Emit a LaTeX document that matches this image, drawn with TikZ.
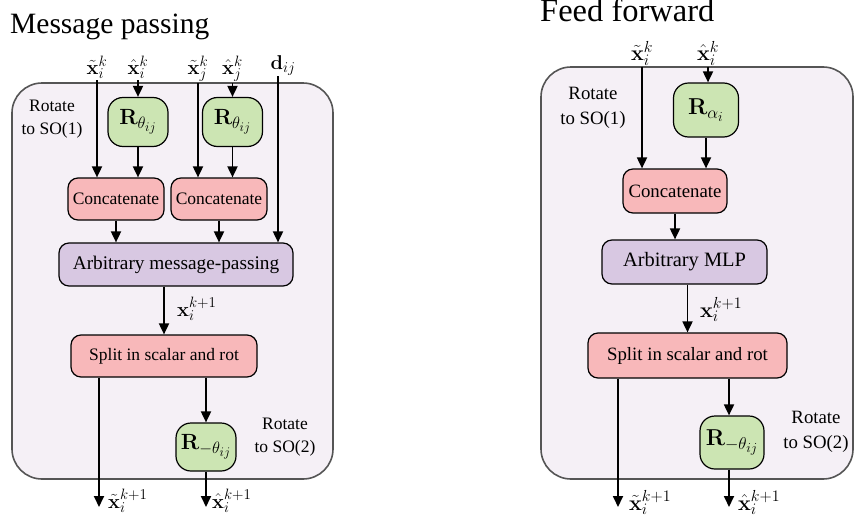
\RequirePackage{fix-cm}
\documentclass[tikz,border=0pt]{standalone}
\usepackage[no-math]{fontspec}
\setmainfont{Liberation Serif}
\usetikzlibrary{arrows.meta}
\DeclareMathSizes{20}{20}{15}{12}
\DeclareMathSizes{21.5}{21.5}{16}{12.9}
\DeclareMathSizes{22}{22}{16.5}{13.2}
\DeclareMathSizes{23}{23}{17.2}{13.8}
\definecolor{G}{RGB}{204,229,179}
\definecolor{P}{RGB}{248,184,186}
\definecolor{M}{RGB}{216,200,226}
\definecolor{B}{RGB}{245,240,246}
\definecolor{E}{RGB}{85,85,85}
\newcommand{\fs}[1]{\fontsize{#1}{\dimexpr #1pt*13/10\relax}\selectfont}
\newcommand{\drawarrow}{\draw[line width=1.8pt,-{Triangle[length=11pt,width=10pt]}]}
\tikzset{
  panel/.style={draw=E,line width=1.6pt,fill=B,rounded corners=30pt},
  rbox/.style 2 args={draw,line width=1.2pt,fill=G,rounded corners=15pt,minimum width=#1,minimum height=#2,inner sep=0pt},
  pbox/.style 2 args={draw,line width=1.2pt,fill=P,rounded corners=10pt,minimum width=#1,minimum height=#2,inner sep=0pt},
  mbox/.style 2 args={draw,line width=1.2pt,fill=M,rounded corners=10pt,minimum width=#1,minimum height=#2,inner sep=0pt},
  vec/.style={inner sep=1pt,anchor=base},
  note/.style={align=center,inner sep=0pt}
}
\begin{document}
\begin{tikzpicture}[x=1pt,y=-1pt]
\useasboundingbox (0,0) rectangle (856,522);
\draw[panel] (12,83) rectangle (333,479);
\draw[panel] (541,67) rectangle (853,479);
\node[anchor=base west,inner sep=0pt,font=\fs{29.5}] (titleL) at (10,33) {Message passing};
\node[anchor=base west,inner sep=0pt,font=\fs{32.5}] (titleR) at (540,21) {Feed forward};

\begin{scope}[font=\fs{17.5}]
\node[vec,font=\fs{20}] (xtiL) at (97,74) {$\tilde{\mathbf{x}}_i^k$};
\node[vec,font=\fs{20}] (xhiL) at (138,74) {$\hat{\mathbf{x}}_i^k$};
\node[vec,font=\fs{20}] (xtjL) at (198,74) {$\tilde{\mathbf{x}}_j^k$};
\node[vec,font=\fs{20}] (xhjL) at (232.5,74) {$\hat{\mathbf{x}}_j^k$};
\node[vec,font=\fs{20}] (dijL) at (283,69) {$\mathbf{d}_{ij}$};
\node[rbox={60pt}{49pt},font=\fs{22}] (rthL1) at (138,122) {$\mathbf{R}_{\theta_{ij}}$};
\node[rbox={60pt}{49pt},font=\fs{22}] (rthL2) at (232.5,122) {$\mathbf{R}_{\theta_{ij}}$};
\node[pbox={96pt}{42pt}] (catL1) at (116,199) {Concatenate};
\node[pbox={96pt}{42pt}] (catL2) at (219,199) {Concatenate};
\node[mbox={234pt}{43pt},font=\fs{19.3}] (mpL) at (176,264.5) {Arbitrary message-passing};
\node[pbox={186pt}{42pt}] (splitL) at (164,356) {Split in scalar and rot};
\node[rbox={60pt}{48pt},font=\fs{22}] (rnegL) at (206,447) {$\mathbf{R}_{-\theta_{ij}}$};
\node[note] (rotL1) at (52,119) {Rotate\\to SO(1)};
\node[note] (rotL2) at (285,437) {Rotate\\to SO(2)};
\node[anchor=base west,inner sep=0pt,font=\fs{20}] (xkL) at (177,316) {$\mathbf{x}_i^{k+1}$};
\coordinate (outL1) at (99,507);
\coordinate (outL2) at (206,507);
\node[anchor=base west,inner sep=0pt,font=\fs{20}] (xtoL) at (108,508) {$\tilde{\mathbf{x}}_i^{k+1}$};
\node[anchor=base west,inner sep=0pt,font=\fs{20}] (xhoL) at (212,508) {$\hat{\mathbf{x}}_i^{k+1}$};
\end{scope}
\drawarrow (xtiL.south) -- (xtiL.south |- catL1.north);
\drawarrow (xhiL.south) -- (rthL1.north);
\drawarrow (rthL1.south) -- (rthL1.south |- catL1.north);
\drawarrow (xtjL.south) -- (xtjL.south |- catL2.north);
\drawarrow (xhjL.south) -- (rthL2.north);
\drawarrow (rthL2.south) -- (rthL2.south |- catL2.north);
\drawarrow (catL1.south) -- (catL1.south |- mpL.north);
\drawarrow (catL2.south) -- (catL2.south |- mpL.north);
\drawarrow (dijL.south -| 278,0) -- (278,0 |- mpL.north);
\drawarrow (mpL.south -| splitL) -- (splitL.north);
\drawarrow (outL1 |- splitL.south) -- (outL1);
\drawarrow (splitL.south -| rnegL) -- (rnegL.north);
\drawarrow (rnegL.south) -- (outL2);

\begin{scope}[font=\fs{18.8}]
\node[vec,font=\fs{21.5}] (xtiR) at (642,60) {$\tilde{\mathbf{x}}_i^k$};
\node[vec,font=\fs{21.5}] (xhiR) at (708,60) {$\hat{\mathbf{x}}_i^k$};
\node[rbox={65pt}{54pt},font=\fs{23}] (raR) at (706,110) {$\mathbf{R}_{\alpha_i}$};
\node[pbox={104pt}{44pt}] (catR) at (675,191) {Concatenate};
\node[mbox={165pt}{44pt},font=\fs{20.4}] (mlpR) at (684.5,262) {Arbitrary MLP};
\node[pbox={199pt}{45pt}] (splitR) at (687.5,355.5) {Split in scalar and rot};
\node[rbox={64pt}{53pt},font=\fs{23}] (rnegR) at (732,442.5) {$\mathbf{R}_{-\theta_{ij}}$};
\node[note] (rotR1) at (593,108) {Rotate\\to SO(1)};
\node[note] (rotR2) at (816,432) {Rotate\\to SO(2)};
\node[anchor=base west,inner sep=0pt,font=\fs{21.5}] (xkR) at (700,317) {$\mathbf{x}_i^{k+1}$};
\coordinate (outR1) at (618,507);
\coordinate (outR2) at (729,507);
\node[anchor=base west,inner sep=0pt,font=\fs{21.5}] (xtoR) at (629,510) {$\tilde{\mathbf{x}}_i^{k+1}$};
\node[anchor=base west,inner sep=0pt,font=\fs{21.5}] (xhoR) at (738,510) {$\hat{\mathbf{x}}_i^{k+1}$};
\end{scope}
\drawarrow (xtiR.south) -- (xtiR.south |- catR.north);
\drawarrow (xhiR.south) -- (xhiR.south |- raR.north);
\drawarrow (raR.south) -- (raR.south |- catR.north);
\drawarrow (catR.south) -- (catR.south |- mlpR.north);
\drawarrow (mlpR.south -| splitR) -- (splitR.north);
\drawarrow (outR1 |- splitR.south) -- (outR1);
\drawarrow (splitR.south -| outR2) -- (outR2 |- rnegR.north);
\drawarrow (rnegR.south -| outR2) -- (outR2);
\end{tikzpicture}
\end{document}
